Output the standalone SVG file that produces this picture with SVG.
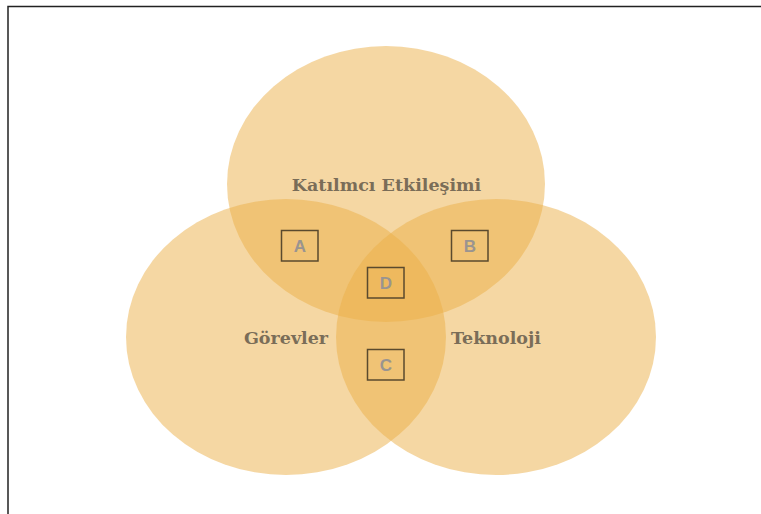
<svg xmlns="http://www.w3.org/2000/svg" width="761" height="514" viewBox="0 0 761 514">
<style>
.set{fill:#ebaf47;fill-opacity:0.5}
.lbl{font-family:"DejaVu Serif","Liberation Serif",serif;font-size:17.5px;fill:#7a6d58;text-anchor:middle;font-weight:bold}
.box{fill:none;stroke:#5a4a2e;stroke-width:1.5}
.let{font-family:"Liberation Sans",Arial,sans-serif;font-size:17px;font-weight:bold;fill:#9a9490;text-anchor:middle}
</style>
<rect x="0" y="0" width="761" height="514" fill="#ffffff"/>
<path d="M8 514 V6.5 H761" fill="none" stroke="#222" stroke-width="1.5"/>
<g id="set-top"><ellipse class="set" cx="386" cy="184" rx="159" ry="138"/></g>
<g id="set-left"><ellipse class="set" cx="286" cy="337" rx="160" ry="138"/></g>
<g id="set-right"><ellipse class="set" cx="496" cy="337" rx="160" ry="138"/></g>
<g id="label-top"><text class="lbl" x="386.5" y="191">Katılmcı Etkileşimi</text></g>
<g id="label-left"><text class="lbl" x="286" y="344">Görevler</text></g>
<g id="label-right"><text class="lbl" x="496" y="344">Teknoloji</text></g>
<g id="box-A"><rect class="box" x="281.5" y="230.5" width="36.5" height="30.5"/><text class="let" x="300" y="252">A</text></g>
<g id="box-B"><rect class="box" x="451.5" y="230.5" width="36.5" height="30.5"/><text class="let" x="470" y="252">B</text></g>
<g id="box-D"><rect class="box" x="367.5" y="267.5" width="36.5" height="30.5"/><text class="let" x="386" y="289">D</text></g>
<g id="box-C"><rect class="box" x="367.5" y="349.5" width="36.5" height="30.5"/><text class="let" x="386" y="371">C</text></g>
<g id="connectors"></g>
</svg>
